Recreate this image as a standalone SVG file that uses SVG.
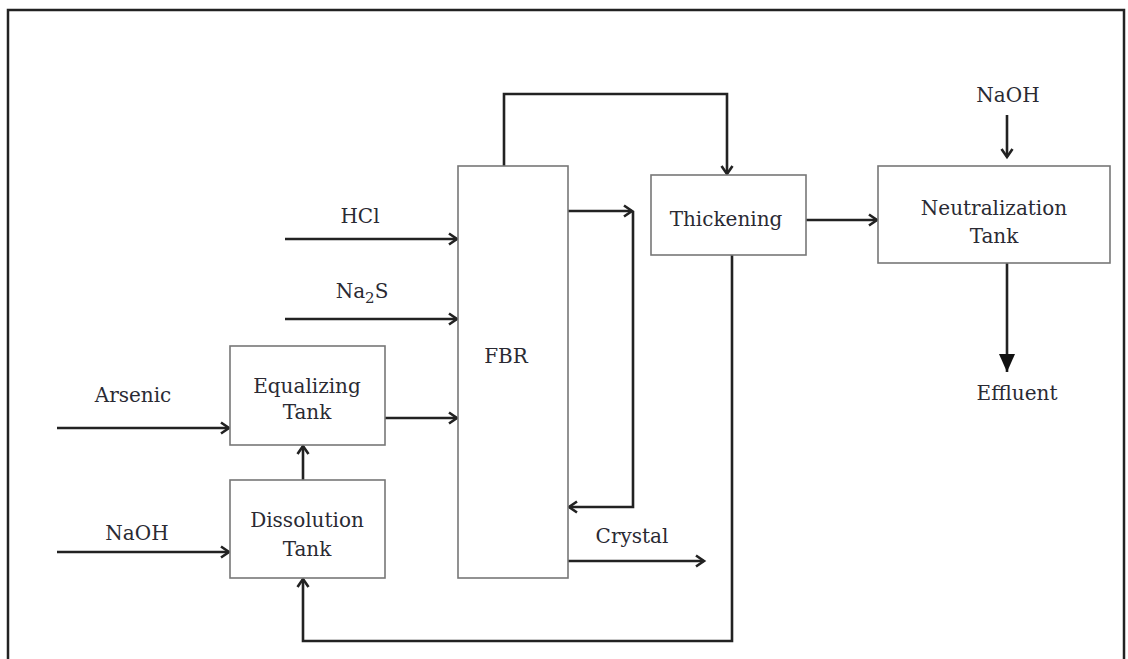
<svg xmlns="http://www.w3.org/2000/svg" width="1128" height="659" viewBox="0 0 1128 659">
<style>
.box{fill:#fff;stroke:#777;stroke-width:1.6}
.t{font-family:"DejaVu Serif","Liberation Serif",serif;font-size:20px;fill:#2a2a33;text-anchor:middle}
.c{fill:none;stroke:#222;stroke-width:2.6}
</style>
<defs>
<marker id="ah" markerUnits="userSpaceOnUse" markerWidth="16" markerHeight="16" refX="12" refY="8" orient="auto">
<path d="M4,2.5 L12,8 L4,13.5" fill="none" stroke="#222" stroke-width="2.6" stroke-linejoin="miter"/>
</marker>
<marker id="big" markerUnits="userSpaceOnUse" markerWidth="20" markerHeight="20" refX="18" refY="9" orient="auto">
<path d="M0,1 L18,9 L0,17 Z" fill="#111"/>
</marker>
</defs>
<rect x="8" y="10" width="1116" height="660" fill="none" stroke="#222" stroke-width="2.5"/>
<g id="connectors">
<path class="c" d="M285,239 H457" marker-end="url(#ah)"/>
<path class="c" d="M285,319 H457" marker-end="url(#ah)"/>
<path class="c" d="M57,428 H229" marker-end="url(#ah)"/>
<path class="c" d="M57,552 H229" marker-end="url(#ah)"/>
<path class="c" d="M385,418 H457" marker-end="url(#ah)"/>
<path class="c" d="M303,480 V446" marker-end="url(#ah)"/>
<path class="c" d="M504,166 V94 H727 V174" marker-end="url(#ah)"/>
<path class="c" d="M568,211 H632" marker-end="url(#ah)"/>
<path class="c" d="M633,211 V507 H569" marker-end="url(#ah)"/>
<path class="c" d="M568,561 H704" marker-end="url(#ah)"/>
<path class="c" d="M806,220 H877" marker-end="url(#ah)"/>
<path class="c" d="M1007,115 V157" marker-end="url(#ah)"/>
<path class="c" d="M1007,263 V372" stroke-width="6" marker-end="url(#big)"/>
<path class="c" d="M732,255 V641 H303 V579" marker-end="url(#ah)"/>
</g>
<g id="labels">
<text class="t" x="360" y="223">HCl</text>
<text class="t" x="362" y="298">Na<tspan font-size="15" dy="5">2</tspan><tspan dy="-5">S</tspan></text>
<text class="t" x="133" y="402">Arsenic</text>
<text class="t" x="137" y="540">NaOH</text>
<text class="t" x="632" y="543">Crystal</text>
<text class="t" x="1008" y="102">NaOH</text>
<text class="t" x="1017" y="400">Effluent</text>
</g>
<g id="equalizing">
<rect class="box" x="230" y="346" width="155" height="99"/>
<text class="t" x="307" y="393">Equalizing</text>
<text class="t" x="307" y="419">Tank</text>
</g>
<g id="dissolution">
<rect class="box" x="230" y="480" width="155" height="98"/>
<text class="t" x="307" y="527">Dissolution</text>
<text class="t" x="307" y="556">Tank</text>
</g>
<g id="fbr">
<rect class="box" x="458" y="166" width="110" height="412"/>
<text class="t" x="506" y="363">FBR</text>
</g>
<g id="thickening">
<rect class="box" x="651" y="175" width="155" height="80"/>
<text class="t" x="726" y="226">Thickening</text>
</g>
<g id="neutralization">
<rect class="box" x="878" y="166" width="232" height="97"/>
<text class="t" x="994" y="215">Neutralization</text>
<text class="t" x="994" y="243">Tank</text>
</g>
</svg>
